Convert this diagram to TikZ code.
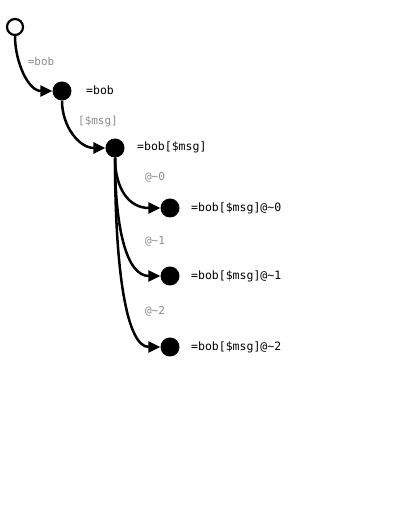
\documentclass[tikz,border=0pt]{standalone}
\usepackage{fontspec}
\setmonofont{DejaVu Sans Mono}
\usetikzlibrary{arrows.meta}
\begin{document}
\begin{tikzpicture}[x=1pt,y=1pt,
  dot/.style={circle,fill=black,minimum size=19pt,inner sep=0pt},
  startdot/.style={circle,draw=black,fill=white,line width=2.2pt,minimum size=16pt,inner sep=0pt},
  conn/.style={line width=2.5pt,-{Triangle[length=12pt,width=11pt]}},
  glab/.style={font=\fontsize{11}{13}\selectfont\ttfamily,text=black!45},
  nlab/.style={font=\fontsize{11.5}{13}\selectfont\ttfamily,text=black,anchor=west,inner sep=0pt}]
\useasboundingbox (0,0) rectangle (400,518);
\node[startdot] (s) at (15,491) {};
\node[dot] (n1) at (62,427) {};
\node[dot] (n2) at (115,370) {};
\node[dot] (n3) at (170,310) {};
\node[dot] (n4) at (170,242) {};
\node[dot] (n5) at (170,171) {};
\draw[conn] (s.south) .. controls +(0,-26) and +(-24,0) .. (n1.west);
\draw[conn] (n1.south) .. controls +(0,-26) and +(-26,0) .. (n2.west);
\draw[conn] (n2.south) .. controls +(0,-30) and +(-32,0) .. (n3.west);
\draw[conn] (n2.south) .. controls +(0,-70) and +(-34,0) .. (n4.west);
\draw[conn] (n2.south) .. controls +(0,-112) and +(-34,0) .. (n5.west);
\node[glab] (g1) at (41,457) {=bob};
\node[glab] (g2) at (98,396) {[\$msg]};
\node[glab] (g3) at (155,341) {@\textasciitilde0};
\node[glab] (g4) at (155,277) {@\textasciitilde1};
\node[glab] (g5) at (155,207) {@\textasciitilde2};
\node[nlab] (l1) at (86,428) {=bob};
\node[nlab] (l2) at (137,371) {=bob[\$msg]};
\node[nlab] (l3) at (191,310) {=bob[\$msg]@\textasciitilde0};
\node[nlab] (l4) at (191,242) {=bob[\$msg]@\textasciitilde1};
\node[nlab] (l5) at (191,171) {=bob[\$msg]@\textasciitilde2};
\end{tikzpicture}
\end{document}
